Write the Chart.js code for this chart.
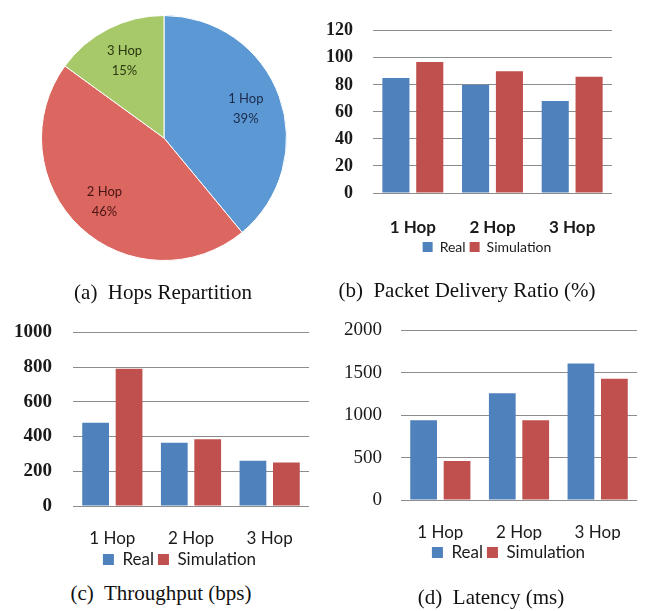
<!DOCTYPE html>
<html>
<head>
<meta charset="utf-8">
<script src="https://cdn.jsdelivr.net/npm/chart.js@4"></script>
<style>
  body { margin: 0; background: #fff; }
  #page { position: relative; width: 651px; height: 611px; overflow: hidden; }
  canvas, .cap { position: absolute; }
  .cap {
    font-family: 'Liberation Serif', 'Times New Roman', serif;
    font-size: 21px; line-height: 24px; color: #111;
    white-space: nowrap; transform: translateX(-50%);
  }
</style>
</head>
<body>
<div id="page">
  <canvas id="hopsPie" width="246" height="246" style="left:41px;top:15px"></canvas>
  <canvas id="pdrChart" width="331" height="264" style="left:320px;top:0px"></canvas>
  <canvas id="thrChart" width="330" height="278" style="left:0px;top:300px"></canvas>
  <canvas id="latChart" width="331" height="271" style="left:320px;top:300px"></canvas>
  <div class="cap" style="left:163px;top:280px">(a)&nbsp; Hops Repartition</div>
  <div class="cap" style="left:467px;top:278px">(b)&nbsp; Packet Delivery Ratio (%)</div>
  <div class="cap" style="left:161px;top:581px">(c)&nbsp; Throughput (bps)</div>
  <div class="cap" style="left:491px;top:585px">(d)&nbsp; Latency (ms)</div>
</div>
<script>
const HOPS = ['1 Hop', '2 Hop', '3 Hop'];
const HOP_SHARE = [39, 46, 15];

const PDR_REAL = [85, 80, 68];
const PDR_SIM = [97, 90, 86];

const THR_REAL = [480, 365, 260];
const THR_SIM = [790, 385, 250];

const LAT_REAL = [940, 1260, 1610];
const LAT_SIM = [460, 940, 1430];

const COLORS = {
  real: '#4f81bd',
  sim: '#c0504d',
  grid: '#8c8c8c',
  text: '#1a1a1a'
};
const PIE_FILL = ['#5b98d4', '#dc6660', '#a7c96a'];
const PIE_TEXT = ['#1c2a4a', '#4a1512', '#2b3810'];

// pie slice captions, two lines at ~0.7 of the radius
const pieLabels = {
  id: 'pieLabels',
  afterDatasetsDraw(chart) {
    const ctx = chart.ctx;
    chart.getDatasetMeta(0).data.forEach((arc, i) => {
      const p = arc.getProps(['x', 'y', 'startAngle', 'endAngle', 'outerRadius']);
      const mid = (p.startAngle + p.endAngle) / 2;
      const lx = p.x + Math.cos(mid) * p.outerRadius * 0.71;
      const ly = p.y + Math.sin(mid) * p.outerRadius * 0.71;
      ctx.save();
      ctx.font = '13px Lato';
      ctx.fillStyle = PIE_TEXT[i];
      ctx.textAlign = 'center';
      ctx.textBaseline = 'middle';
      ctx.fillText(HOPS[i], lx, ly - 10);
      ctx.fillText(HOP_SHARE[i] + '%', lx, ly + 10);
      ctx.restore();
    });
  }
};

// nudge the legend sideways after layout
function shiftLegend(dx) {
  return {
    id: 'shiftLegend',
    afterLayout(chart) {
      chart.legend.left += dx;
      chart.legend.right += dx;
    }
  };
}

new Chart(document.getElementById('hopsPie'), {
  type: 'pie',
  data: {
    labels: HOPS,
    datasets: [{
      data: HOP_SHARE,
      backgroundColor: PIE_FILL,
      borderColor: '#fff',
      borderWidth: 1
    }]
  },
  options: {
    responsive: false,
    animation: false,
    layout: { padding: 0 },
    plugins: { legend: { display: false }, tooltip: { enabled: false } }
  },
  plugins: [pieLabels]
});

function barChart(id, real, sim, cfg) {
  return new Chart(document.getElementById(id), {
    type: 'bar',
    data: {
      labels: HOPS,
      datasets: [
        { label: 'Real', data: real, backgroundColor: COLORS.real, borderWidth: 0,
          categoryPercentage: 0.85, barPercentage: 0.8 },
        { label: 'Simulation', data: sim, backgroundColor: COLORS.sim, borderWidth: 0,
          categoryPercentage: 0.85, barPercentage: 0.8 }
      ]
    },
    options: {
      responsive: false,
      animation: false,
      layout: { padding: { top: cfg.padTop, right: cfg.padRight, left: 0, bottom: 0 } },
      scales: {
        y: {
          min: 0,
          max: cfg.max,
          afterFit: s => { s.width = cfg.yWidth; },
          ticks: {
            stepSize: cfg.step,
            padding: cfg.tickPad,
            color: COLORS.text,
            callback: v => String(v),
            font: { family: "'Liberation Serif', serif", size: cfg.tickSize, weight: cfg.tickWeight }
          },
          grid: { color: COLORS.grid, lineWidth: 1, drawTicks: false },
          border: { display: false }
        },
        x: {
          afterFit: s => { s.height = cfg.xHeight; },
          ticks: {
            padding: cfg.catPad,
            color: COLORS.text,
            font: { family: 'Lato', size: 17, weight: cfg.catWeight }
          },
          grid: { display: false, drawTicks: false },
          border: { display: false }
        }
      },
      plugins: {
        tooltip: { enabled: false },
        legend: {
          position: 'bottom',
          labels: {
            boxWidth: cfg.box,
            boxHeight: cfg.box,
            padding: 4,
            color: COLORS.text,
            font: { family: 'Lato', size: cfg.legendSize }
          }
        }
      }
    },
    plugins: [shiftLegend(cfg.legendShift)]
  });
}

barChart('pdrChart', PDR_REAL, PDR_SIM, {
  max: 120, step: 20, padTop: 14, padRight: 39, yWidth: 53, tickPad: 20,
  tickSize: 18, tickWeight: 'bold', xHeight: 43, catPad: 24, catWeight: 'bold',
  box: 10, legendSize: 14, legendShift: 21
});

barChart('thrChart', THR_REAL, THR_SIM, {
  max: 1000, step: 200, padTop: 28, padRight: 21, yWidth: 73, tickPad: 21,
  tickSize: 19, tickWeight: 'bold', xHeight: 41, catPad: 22, catWeight: 'normal',
  box: 11, legendSize: 17, legendShift: 25
});

barChart('latChart', LAT_REAL, LAT_SIM, {
  max: 2000, step: 500, padTop: 23, padRight: 14, yWidth: 81, tickPad: 19,
  tickSize: 19, tickWeight: 'normal', xHeight: 40, catPad: 22, catWeight: 'normal',
  box: 11, legendSize: 17, legendShift: 30
});
</script>
</body>
</html>
